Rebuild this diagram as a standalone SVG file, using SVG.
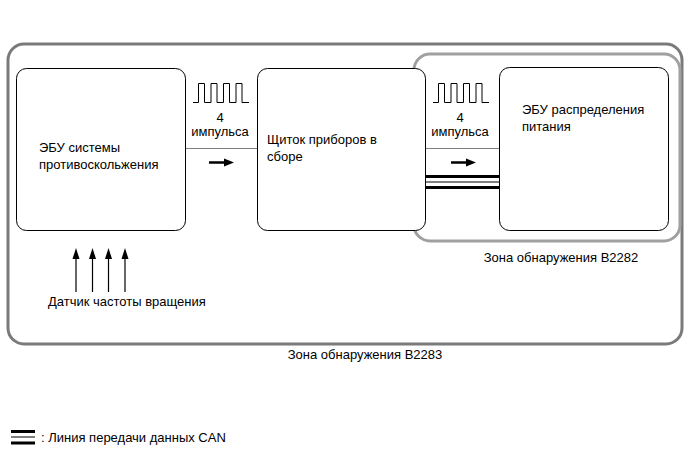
<svg xmlns="http://www.w3.org/2000/svg" width="690" height="467" viewBox="0 0 690 467">
<style>
text{font-family:"Liberation Sans",Arial,sans-serif;font-size:13px;fill:#000}
.box{fill:#fff;stroke:#000;stroke-width:1}
.zone{fill:none;stroke-width:3}
.thin{stroke:#808080;stroke-width:1;fill:none}
.pulse{stroke:#000;stroke-width:1;fill:none}
.can{stroke:#000;stroke-width:3}
.canmid{stroke:#000;stroke-width:1}
.arr{stroke:#000;stroke-width:1.2}
.head{fill:#000}
</style>
<defs>
<path id="up" class="head" d="M0,0 L3.5,11 L-3.5,11 Z"/>
<path id="right" class="head" d="M0,0 L-10,-4 L-10,4 Z"/>
</defs>
<rect width="690" height="467" fill="#fff"/>
<g id="zone-b2283">
<rect class="zone" x="8" y="44" width="674" height="300" rx="16" stroke="#7a7a7a"/>
<text x="365" y="359" text-anchor="middle">Зона обнаружения B2283</text>
</g>
<g id="zone-b2282">
<rect class="zone" x="414" y="54" width="266" height="187" rx="16" stroke="#a0a0a0"/>
<text x="561" y="262" text-anchor="middle">Зона обнаружения B2282</text>
</g>
<g id="connectors">
<line class="thin" x1="185" y1="148.5" x2="257" y2="148.5"/>
<line class="thin" x1="426" y1="148.5" x2="500" y2="148.5"/>
<path class="pulse" d="M193,102.5 H198.5 V83.5 H204.5 V102.5 H211 V83.5 H217 V102.5 H223.5 V83.5 H229.5 V102.5 H236 V83.5 H242 V102.5 H249"/>
<path class="pulse" d="M433,102.5 H438.5 V83.5 H444.5 V102.5 H451 V83.5 H457 V102.5 H463.5 V83.5 H469.5 V102.5 H476 V83.5 H482 V102.5 H489"/>
<text x="220" y="122" text-anchor="middle">4</text>
<text x="220" y="136" text-anchor="middle">импульса</text>
<text x="460" y="122" text-anchor="middle">4</text>
<text x="460" y="136" text-anchor="middle">импульса</text>
<line x1="209" y1="162.5" x2="226" y2="162.5" stroke="#000" stroke-width="2.5"/>
<use href="#right" x="234" y="162.5"/>
<line x1="451" y1="162.5" x2="468" y2="162.5" stroke="#000" stroke-width="2.5"/>
<use href="#right" x="476" y="162.5"/>
<line class="can" x1="426" y1="176.5" x2="500" y2="176.5"/>
<line class="canmid" x1="426" y1="182" x2="500" y2="182"/>
<line class="can" x1="426" y1="187.5" x2="500" y2="187.5"/>
<line class="arr" x1="76" y1="292" x2="76" y2="256"/>
<use href="#up" x="76" y="248"/>
<line class="arr" x1="92.5" y1="292" x2="92.5" y2="256"/>
<use href="#up" x="92.5" y="248"/>
<line class="arr" x1="108.5" y1="292" x2="108.5" y2="256"/>
<use href="#up" x="108.5" y="248"/>
<line class="arr" x1="125" y1="292" x2="125" y2="256"/>
<use href="#up" x="125" y="248"/>
</g>
<g id="abs-ecu">
<rect class="box" x="16.5" y="68.5" width="169" height="162" rx="10"/>
<text x="39" y="152">ЭБУ системы</text>
<text x="39" y="169">противоскольжения</text>
</g>
<g id="combination-meter">
<rect class="box" x="257.5" y="68.5" width="168" height="162" rx="10"/>
<text x="267" y="144">Щиток приборов в</text>
<text x="267" y="161">сборе</text>
</g>
<g id="power-ecu">
<rect class="box" x="499.5" y="67.5" width="169" height="163" rx="10"/>
<text x="522" y="114">ЭБУ распределения</text>
<text x="522" y="131">питания</text>
</g>
<g id="speed-sensor">
<text x="48" y="306">Датчик частоты вращения</text>
</g>
<g id="legend">
<line class="can" x1="11" y1="431.5" x2="35" y2="431.5"/>
<line class="canmid" x1="11" y1="437" x2="35" y2="437"/>
<line class="can" x1="11" y1="443" x2="35" y2="443"/>
<text x="41" y="442">: Линия передачи данных CAN</text>
</g>
</svg>
